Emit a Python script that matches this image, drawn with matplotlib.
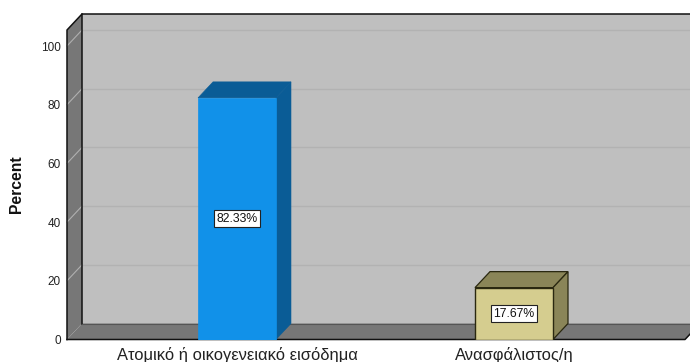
import matplotlib
matplotlib.use("Agg")
import matplotlib.pyplot as plt
from matplotlib.patches import Polygon

categories = ["Ατομικό ή οικογενειακό εισόδημα", "Ανασφάλιστος/η"]
values = [82.33, 17.67]
value_labels = ["82.33%", "17.67%"]
yticks = [0, 20, 40, 60, 80, 100]
front_colors = ["#1191E9", "#D5CD8F"]
top_colors = ["#0A5C96", "#8A8558"]
side_colors = ["#0A5C96", "#8A8558"]
edge_colors = ["#0A5C96", "#2A2810"]

plt.rcParams["font.family"] = ["Liberation Sans", "DejaVu Sans"]
W, H = 690, 362
fig = plt.figure(figsize=(W / 100, H / 100), dpi=100)
L, R, B, T = 67, 685, 339.5, 30
ax = fig.add_axes([L / W, 1 - B / H, (R - L) / W, (B - T) / H])
xmin, xmax = -170 / 277, 1 + 171 / 277
ppu = 2.935
ymax = (B - T) / ppu
ax.set_xlim(xmin, xmax)
ax.set_ylim(0, ymax)
ax.patch.set_visible(False)
for s in ax.spines.values():
    s.set_visible(False)

dx = 15 / 277
dy = 16 / ppu
wall = "#BFBFBF"
sidewall = "#777777"


def poly(pts, fc, ec="none", lw=0, z=1):
    ax.add_patch(Polygon(pts, closed=True, fc=fc, ec=ec, lw=lw, zorder=z, clip_on=False))


# back wall, left wall, floor
poly([(xmin + dx, dy), (xmax + dx, dy), (xmax + dx, ymax + dy), (xmin + dx, ymax + dy)], wall)
poly([(xmin, 0), (xmin + dx, dy), (xmin + dx, ymax + dy), (xmin, ymax)], sidewall)
poly([(xmin, 0), (xmax, 0), (xmax + dx, dy), (xmin + dx, dy)], sidewall)

# gridlines
for t in yticks[1:]:
    ax.plot([xmin + dx, xmax + dx], [t + dy, t + dy], color="#B2B2B2", lw=1, zorder=2, clip_on=False)
    ax.plot([xmin, xmin + dx], [t, t + dy], color="#B0B0B0", lw=0.8, zorder=2, clip_on=False)

# frame lines
k = "#111111"
ax.plot([xmin, xmin, xmin + dx, xmax + dx], [0, ymax, ymax + dy, ymax + dy], color=k, lw=1.1, zorder=3, clip_on=False)
ax.plot([xmin + dx, xmin + dx], [dy, ymax + dy], color=k, lw=1.1, zorder=3, clip_on=False)
ax.plot([xmin + dx, xmax + dx], [dy, dy], color="#555555", lw=0.8, zorder=3, clip_on=False)
ax.plot([xmin, xmax, xmax + dx], [0, 0, dy], color=k, lw=1.1, zorder=3, clip_on=False)

# bars
bw = 78 / 277
for i, v in enumerate(values):
    a, b = i - bw / 2, i + bw / 2
    ec = edge_colors[i]
    lw = 0.9 if i == 1 else 0.4
    poly([(a, v), (b, v), (b + dx, v + dy), (a + dx, v + dy)], top_colors[i], ec, lw, 5)
    poly([(b, 0), (b + dx, dy), (b + dx, v + dy), (b, v)], side_colors[i], ec, lw, 5)
    ax.bar(i, v, width=bw, color=front_colors[i], edgecolor=ec if i == 1 else front_colors[i], linewidth=lw + 0.1, zorder=6)
    ax.text(i, v / 2, value_labels[i], ha="center", va="center", fontsize=8.8, color="#111111", zorder=8,
            bbox=dict(boxstyle="square,pad=0.2", fc="white", ec="#222222", lw=0.8))

ax.set_xticks([0, 1], categories)
ax.set_yticks(yticks)
ax.tick_params(axis="x", length=0, pad=5.5, labelsize=11.9, labelcolor="#222222")
ax.tick_params(axis="y", length=0, pad=4.5, labelsize=8.5, labelcolor="#222222")
fig.text(17 / W, 1 - 184 / H, "Percent", rotation=90, ha="center", va="center", fontsize=11.3, fontweight="bold", color="#111111")
fig.savefig("out.png", dpi=100, facecolor="white")
